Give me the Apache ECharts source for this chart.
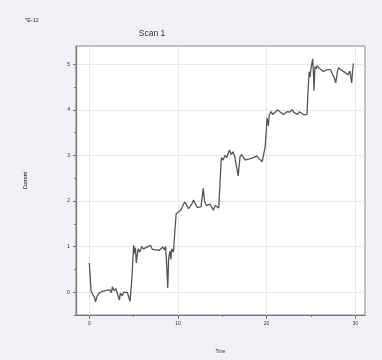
<!DOCTYPE html>
<html>
<head>
<meta charset="utf-8">
<script src="https://cdn.jsdelivr.net/npm/echarts@6/dist/echarts.min.js"></script>
<style>
  html, body { margin: 0; padding: 0; background: #f1f1f8; }
  #chart { width: 382px; height: 360px; }
</style>
</head>
<body>
<div id="chart"></div>
<script>
// Scan 1: current (in units of 1E-12) against time
const time = [
  0.0, 0.1, 0.2, 0.4, 0.6, 0.7, 0.9, 1.1, 1.3, 1.5, 1.7, 1.9, 2.1, 2.3, 2.5, 2.6, 2.7, 2.8,
  3.0, 3.2, 3.4, 3.5, 3.7, 3.9, 4.1, 4.3, 4.5, 4.6, 4.8, 5.0, 5.1, 5.2, 5.3, 5.5, 5.7, 5.9,
  6.1, 6.3, 6.5, 6.7, 6.9, 7.1, 7.3, 7.5, 7.7, 7.9, 8.1, 8.3, 8.5, 8.6, 8.7, 8.85, 8.95,
  9.1, 9.2, 9.3, 9.5, 9.6, 9.8, 10.0, 10.2, 10.4, 10.6, 10.8, 11.0, 11.2, 11.4, 11.6, 11.75,
  12.0, 12.2, 12.4, 12.6, 12.85, 13.0, 13.2, 13.4, 13.6, 13.8, 14.0, 14.2, 14.4, 14.6, 14.8,
  14.9, 15.1, 15.3, 15.5, 15.8, 16.0, 16.2, 16.4, 16.6, 16.8, 17.0, 17.2, 17.4, 17.6, 17.8,
  18.0, 18.2, 18.5, 18.7, 18.9, 19.1, 19.3, 19.5, 19.7, 19.85, 19.95, 20.05, 20.2, 20.3,
  20.5, 20.7, 20.85, 21.0, 21.2, 21.4, 21.6, 21.9, 22.1, 22.3, 22.6, 22.9, 23.1, 23.3, 23.5,
  23.7, 23.9, 24.2, 24.4, 24.55, 24.7, 24.8, 24.9, 25.0, 25.1, 25.2, 25.3, 25.35, 25.45,
  25.6, 25.7, 25.9, 26.1, 26.4, 26.6, 26.8, 27.0, 27.2, 27.4, 27.6, 27.8, 28.0, 28.1, 28.4,
  28.6, 28.9, 29.2, 29.4, 29.6, 29.7, 29.8
];
const current = [
  0.64, 0.35, 0.02, -0.05, -0.12, -0.21, -0.08, -0.02, -0.05, 0.02, 0.00, 0.04, 0.01, 0.05, -0.01, 0.12, 0.15, 0.03,
  0.08, -0.05, -0.17, -0.02, -0.08, 0.00, -0.03, -0.01, -0.05, -0.20, 0.30, 1.03, 0.85, 0.98, 0.64, 0.95, 0.88, 1.00,
  0.95, 0.93, 0.99, 0.96, 1.03, 0.94, 0.97, 0.93, 0.95, 0.92, 0.96, 0.99, 0.93, 1.00, 0.70, 0.09, 0.75,
  0.90, 0.72, 0.95, 0.88, 1.20, 1.72, 1.76, 1.78, 1.83, 1.92, 1.98, 1.90, 1.83, 1.80, 1.95, 2.02,
  1.92, 1.86, 1.90, 1.87, 2.28, 2.00, 1.90, 1.87, 1.93, 1.89, 1.80, 1.90, 1.86, 1.85, 2.60,
  2.95, 2.90, 3.00, 2.95, 3.12, 3.02, 3.08, 2.98, 3.00, 2.55, 2.97, 3.02, 2.95, 2.90, 2.86,
  2.92, 2.90, 2.95, 2.92, 2.99, 2.94, 2.90, 2.86, 2.88, 3.20, 3.50, 3.82, 3.65, 3.88,
  3.96, 3.90, 3.89, 3.95, 4.00, 3.96, 3.94, 3.90, 3.93, 3.96, 3.95, 4.00, 3.94, 3.92, 3.90,
  3.96, 3.94, 3.89, 3.93, 3.90, 4.50, 4.84, 4.72, 4.90, 4.86, 5.12, 4.75, 4.42, 4.95,
  4.90, 4.97, 4.92, 4.95, 4.84, 4.80, 4.88, 4.92, 4.88, 4.80, 4.72, 4.59, 4.85, 4.92, 4.88,
  4.84, 4.81, 4.77, 4.85, 4.59, 4.85, 5.02
];
const xLabelValues = [0, 10, 20, 30];
const xMinorValues = [5, 15, 25];
const yLabelValues = [0, 1, 2, 3, 4, 5];
const yMinorValues = [-0.5, 0.5, 1.5, 2.5, 3.5, 4.5];

const textColor = '#333';
const axisColor = '#777';
const xMin = -1.5, xMax = 31.1, yMin = -0.5, yMax = 5.4;

const chart = echarts.init(document.getElementById('chart'), null, { renderer: 'canvas' });
chart.setOption({
  backgroundColor: '#f1f1f8',
  animation: false,
  title: [
    { text: 'Scan 1', left: 147, top: 24, textAlign: 'center',
      textStyle: { fontSize: 8.5, fontWeight: 'normal', color: textColor, fontFamily: 'Liberation Sans' } },
    { text: '*E-12', left: 20, top: 12,
      textStyle: { fontSize: 5.5, fontWeight: 'normal', color: textColor, fontFamily: 'Liberation Sans' } }
  ],
  grid: {
    left: 76, top: 46, right: 17, bottom: 45,
    show: true, backgroundColor: '#ffffff', borderColor: '#888', borderWidth: 1
  },
  xAxis: [
    {
      type: 'value', min: xMin, max: xMax,
      name: 'Time', nameLocation: 'middle', nameGap: 34,
      nameTextStyle: { fontSize: 4.5, color: textColor, fontFamily: 'Liberation Sans' },
      axisLine: { show: true, onZero: false, lineStyle: { color: axisColor, width: 1.2 } },
      axisTick: { show: true, length: 4, customValues: xLabelValues, lineStyle: { color: axisColor } },
      axisLabel: { customValues: xLabelValues, fontSize: 5, color: textColor, margin: 6, fontFamily: 'Liberation Sans' },
      splitLine: { show: true, lineStyle: { color: '#e8e8e8', width: 1 } }
    },
    {
      type: 'value', min: xMin, max: xMax, position: 'bottom',
      axisLine: { show: false, onZero: false },
      axisTick: { show: true, length: 2, customValues: xMinorValues, lineStyle: { color: axisColor } },
      axisLabel: { show: false },
      splitLine: { show: false }
    }
  ],
  yAxis: [
    {
      type: 'value', min: yMin, max: yMax,
      name: 'Current', nameLocation: 'middle', nameGap: 48, nameRotate: 90,
      nameTextStyle: { fontSize: 4.8, fontWeight: 'bold', color: '#444', fontFamily: 'Liberation Sans' },
      axisLine: { show: true, onZero: false, lineStyle: { color: axisColor, width: 1.2 } },
      axisTick: { show: true, length: 3, customValues: yLabelValues, lineStyle: { color: axisColor } },
      axisLabel: { customValues: yLabelValues, fontSize: 5, color: textColor, margin: 6, fontFamily: 'Liberation Sans' },
      splitLine: { show: true, lineStyle: { color: '#e8e8e8', width: 1 } }
    },
    {
      type: 'value', min: yMin, max: yMax, position: 'left',
      axisLine: { show: false, onZero: false },
      axisTick: { show: true, length: 2, customValues: yMinorValues, lineStyle: { color: axisColor } },
      axisLabel: { show: false },
      splitLine: { show: false }
    }
  ],
  series: [{
    type: 'line',
    xAxisIndex: 0, yAxisIndex: 0,
    data: time.map((t, i) => [t, current[i]]),
    showSymbol: false,
    lineStyle: { color: '#555', width: 1.3 }
  }]
});
</script>
</body>
</html>
